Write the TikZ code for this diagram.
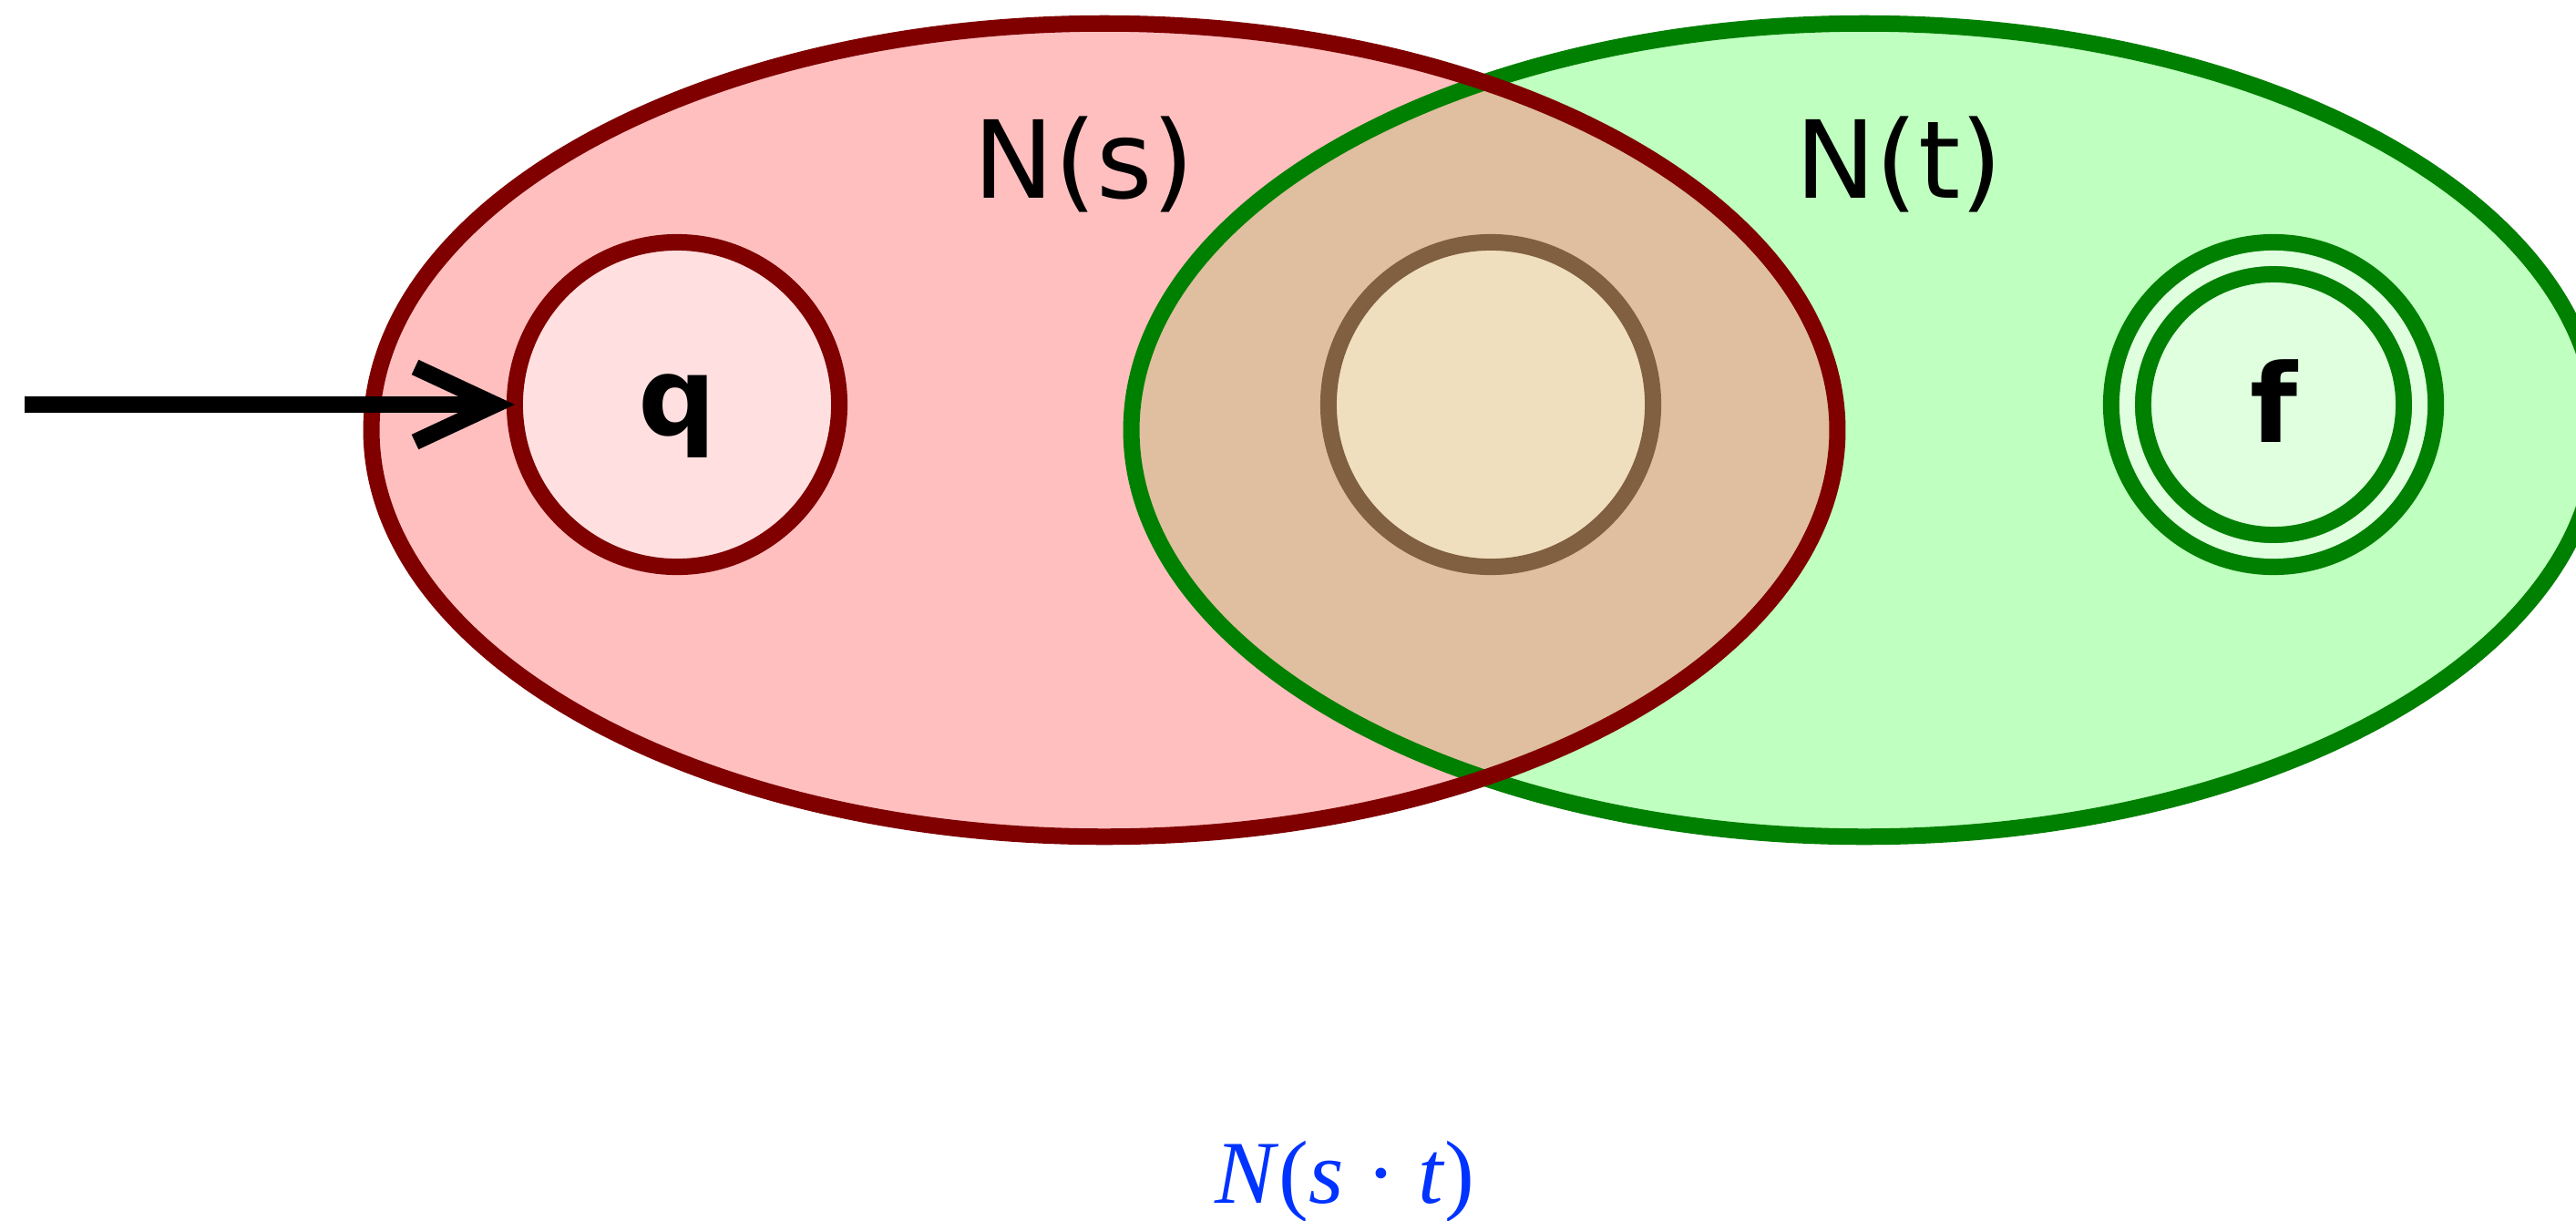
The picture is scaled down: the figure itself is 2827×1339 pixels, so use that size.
\documentclass[tikz,border=0pt]{standalone}
\usepackage{fontspec}
\setmainfont{DejaVu Sans}
\newfontfamily\labserif{Liberation Serif}
\usetikzlibrary{shapes.geometric,arrows.meta}
\definecolor{rfill}{HTML}{FFBFBF}
\definecolor{rstroke}{HTML}{800000}
\definecolor{gfill}{HTML}{BFFFBF}
\definecolor{gstroke}{HTML}{008000}
\definecolor{mixfill}{HTML}{DFBF9F}
\definecolor{mfill}{HTML}{F0DFBF}
\definecolor{mstroke}{HTML}{806040}
\definecolor{qfill}{HTML}{FFDFDF}
\definecolor{ffill}{HTML}{DFFFDF}
\definecolor{labblue}{HTML}{0033FF}
\begin{document}
\begin{tikzpicture}[x=0.01cm,y=-0.01cm,line width=0.18cm,
  region/.style={ellipse,minimum width=16.08cm,minimum height=8.92cm,inner sep=0pt,outer sep=0pt},
  state/.style={circle,minimum size=3.56cm,inner sep=0pt,outer sep=0pt},
  statefont/.style={font=\bfseries\fontsize{34}{40}\selectfont},
  setlabel/.style={anchor=base,font=\fontsize{33.6}{40}\selectfont}]
\clip (0,0) rectangle (2827,1339);
\fill[white] (0,0) rectangle (2827,1339);
% regions
\node[region,fill=rfill] (Ns) at (1212,472) {};
\node[region,fill=gfill] (Nt) at (2046,472) {};
\begin{scope}
  \clip (Ns.center) ellipse [x radius=8.04cm,y radius=4.46cm];
  \fill[mixfill] (Nt.center) ellipse [x radius=8.04cm,y radius=4.46cm];
\end{scope}
\draw[gstroke] (Nt.center) ellipse [x radius=8.04cm,y radius=4.46cm];
\draw[rstroke] (Ns.center) ellipse [x radius=8.04cm,y radius=4.46cm];
% labels
\node[setlabel] (ls) at (1190,217) {N(s)};
\node[setlabel] (lt) at (2084,217) {N(t)};
% states
\node[state,draw=rstroke,fill=qfill,statefont,text height=0.8cm,text depth=0.14cm] (q) at (743,444) {q};
\node[state,draw=mstroke,fill=mfill] (m) at (1636,444) {};
\node[circle,minimum size=3.21cm,inner sep=0pt,outer sep=0pt,draw=gstroke,double=ffill,double distance=0.17cm,fill=ffill,statefont,text height=0.9cm,text depth=0.08cm] (f) at (2495,444) {f};
% initial arrow
\coordinate (start) at (27,444);
\draw[-{Straight Barb[length=0.88cm,width=0.82cm]}] (start) -- (q.west);
% bottom label
\node[anchor=base,text=labblue,font=\labserif\fontsize{28}{34}\selectfont] (lst) at (1476,1320) {\textit{N}(\textit{s}\hspace{0.25em}·\hspace{0.25em}\textit{t})};
\end{tikzpicture}
\end{document}
